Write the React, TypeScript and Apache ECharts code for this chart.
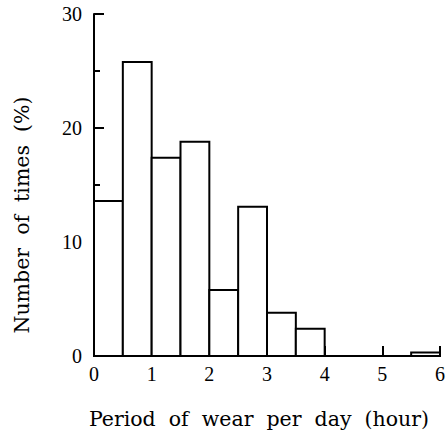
import React, { useEffect, useRef } from "react";
import * as echarts from "echarts";

const binStarts = [0, 0.5, 1, 1.5, 2, 2.5, 3, 3.5, 4, 4.5, 5, 5.5];
const binWidth = 0.5;
const percents = [13.6, 25.8, 17.4, 18.8, 5.8, 13.1, 3.8, 2.4, 0, 0, 0, 0.3];
const xTicks = [0, 1, 2, 3, 4, 5, 6];
const yTicks = [0, 10, 20, 30];
const xTitle = "Period  of  wear  per  day  (hour)";
const yTitle = "Number  of  times  (%)";

export default function App() {
  const ref = useRef<HTMLDivElement>(null);
  useEffect(() => {
    if (!ref.current) return;
    const chart = echarts.init(ref.current, null, { renderer: "svg" });
    const data = binStarts.map((s, i) => [s, s + binWidth, percents[i]]);
    chart.setOption({
      animation: false,
      backgroundColor: "#ffffff",
      grid: { left: 94, right: 6, top: 14, bottom: 75, containLabel: false },
      xAxis: {
        type: "value",
        min: xTicks[0],
        max: xTicks[xTicks.length - 1],
        interval: 1,
        name: xTitle,
        nameLocation: "middle",
        nameGap: 52,
        nameTextStyle: {
          fontFamily: "DejaVu Serif",
          fontSize: 20.5,
          color: "#000",
          padding: [0, 16, 0, 0],
        },
        axisLine: { show: true, onZero: false, lineStyle: { color: "#000", width: 2 } },
        axisTick: { show: true, inside: true, length: 10, lineStyle: { color: "#000", width: 2 } },
        axisLabel: {
          fontFamily: "Liberation Serif",
          fontSize: 20,
          color: "#000",
          margin: 8,
        },
        splitLine: { show: false },
      },
      yAxis: {
        type: "value",
        min: yTicks[0],
        max: yTicks[yTicks.length - 1],
        interval: 10,
        name: yTitle,
        nameLocation: "middle",
        nameGap: 62,
        nameTextStyle: {
          fontFamily: "DejaVu Serif",
          fontSize: 20.5,
          color: "#000",
          padding: [0, 60, 0, 0],
        },
        axisLine: { show: true, lineStyle: { color: "#000", width: 2 } },
        axisTick: { show: true, inside: true, length: 10, lineStyle: { color: "#000", width: 2 } },
        minorTick: { show: true, splitNumber: 2, length: 6, lineStyle: { color: "#000", width: 2 } },
        axisLabel: {
          fontFamily: "Liberation Serif",
          fontSize: 20,
          color: "#000",
          margin: 12,
        },
        splitLine: { show: false },
      },
      series: [
        {
          type: "custom",
          data,
          encode: { x: [0, 1], y: 2 },
          renderItem: (params: any, api: any) => {
            const x0 = api.value(0);
            const x1 = api.value(1);
            const v = api.value(2);
            if (!v) return null;
            const p0 = api.coord([x0, v]);
            const p1 = api.coord([x1, 0]);
            return {
              type: "rect",
              shape: { x: p0[0], y: p0[1], width: p1[0] - p0[0], height: p1[1] - p0[1] },
              style: { fill: "#ffffff", stroke: "#000000", lineWidth: 2 },
            };
          },
        },
      ],
    });
    return () => chart.dispose();
  }, []);
  return <div ref={ref} style={{ width: 448, height: 434, position: "absolute", left: 0, top: 0 }} />;
}
